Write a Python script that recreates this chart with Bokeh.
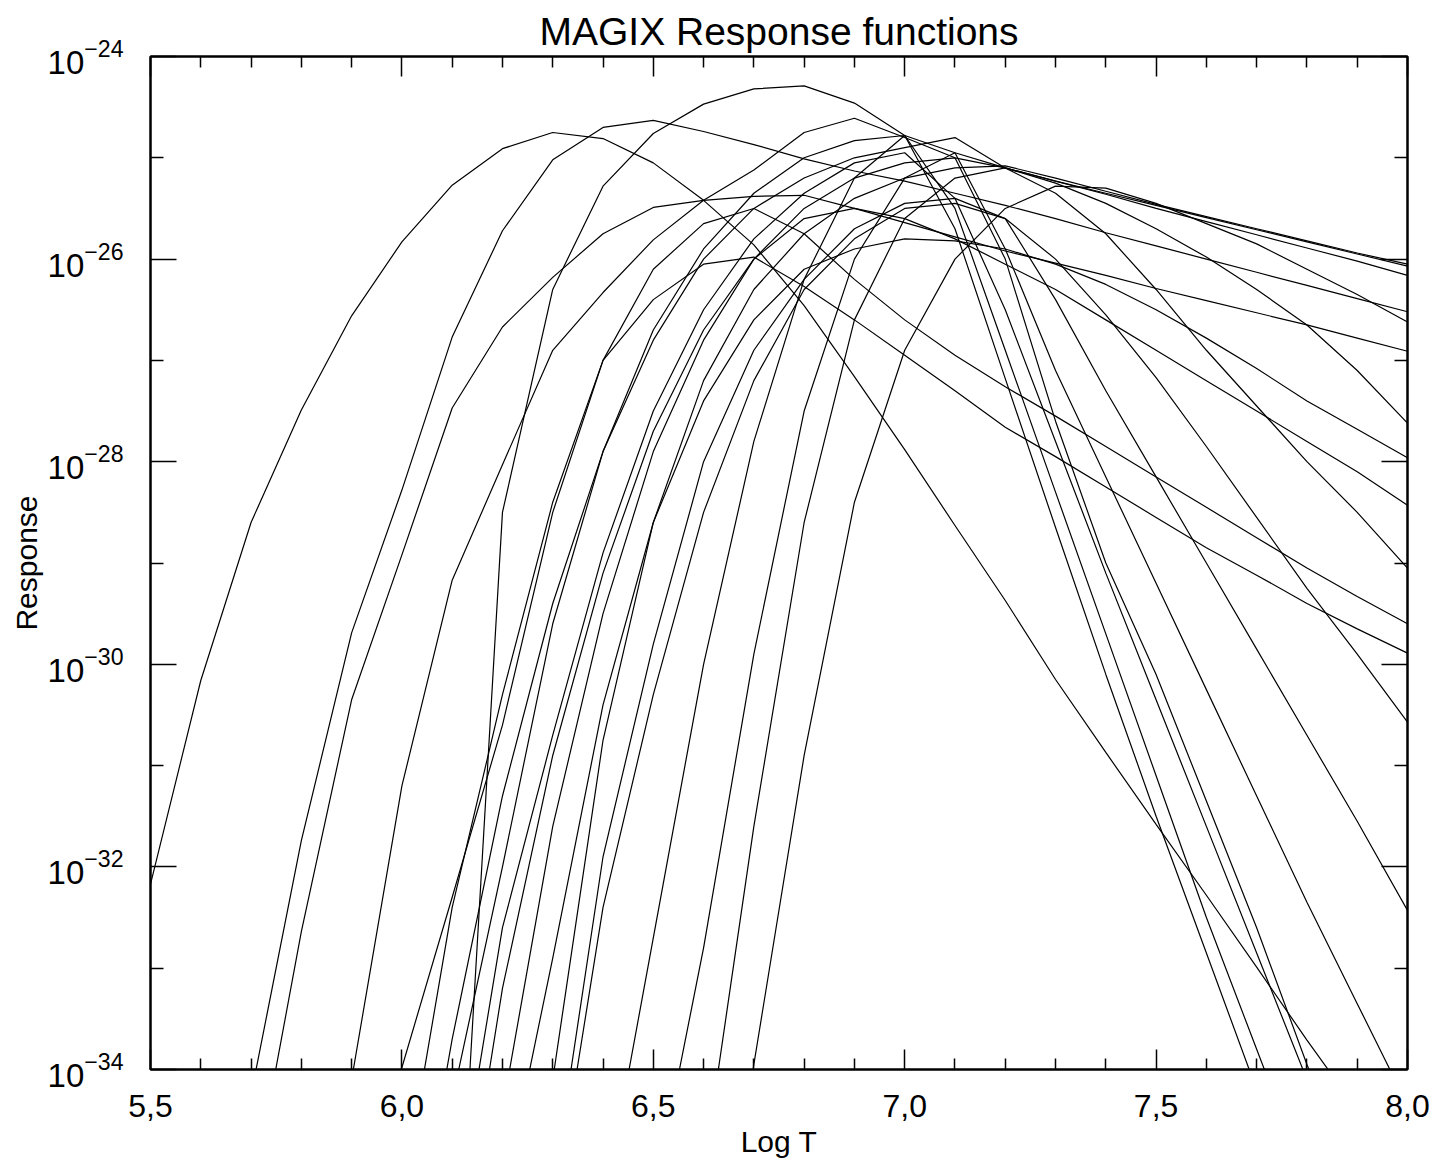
from bokeh.plotting import figure
from bokeh.models import (Range1d, FixedTicker, LinearAxis,
                          LogTickFormatter, CustomJSTickFormatter,
                          CustomLabelingPolicy)
from bokeh.embed import file_html
from bokeh.resources import INLINE

# ---- data: log10(response) at each log T node ----
log_t = [5.5, 5.6, 5.7, 5.8, 5.9, 6.0, 6.1, 6.2, 6.3, 6.4, 6.5, 6.6, 6.7,
         6.8, 6.9, 7.0, 7.1, 7.2, 7.3, 7.4, 7.5, 7.6, 7.7, 7.8, 7.9, 8.0]

c00 = [-32.17, -30.16, -28.60, -27.49, -26.56, -25.83, -25.27, -24.91, -24.75, -24.81, -25.05, -25.42, -25.86,
       -26.46, -27.16, -27.88, -28.63, -29.37, -30.15, -30.87, -31.58, -32.28, -32.99, -33.71, -34.40, -35.10]
c01 = [-39.0, -36.8, -34.25, -31.74, -29.69, -28.28, -26.77, -25.72, -25.02, -24.70, -24.63, -24.74, -24.87,
       -25.01, -25.13, -25.23, -25.35, -25.47, -25.60, -25.74, -25.87, -26.00, -26.13, -26.26, -26.39, -26.52]
c02 = [-41.0, -38.0, -35.31, -32.64, -30.35, -28.92, -27.47, -26.67, -26.18, -25.75, -25.49, -25.42, -25.38,
       -25.37, -25.50, -25.64, -25.78, -25.92, -26.04, -26.16, -26.29, -26.41, -26.53, -26.65, -26.78, -26.91]
c03 = [-45.0, -42.0, -39.0, -36.5, -34.10, -31.20, -29.17, -28.03, -26.90, -26.33, -25.81, -25.42, -25.12,
       -24.75, -24.61, -24.80, -25.00, -25.10, -25.23, -25.35, -25.47, -25.59, -25.71, -25.83, -25.95, -26.07]
c04 = [-48.0, -45.0, -42.0, -39.0, -35.70, -33.98, -32.30, -30.60, -28.50, -27.00, -26.40, -26.05, -25.98,
       -26.27, -26.60, -26.95, -27.30, -27.66, -27.95, -28.25, -28.55, -28.85, -29.12, -29.40, -29.65, -29.89]
c05 = [-50.0, -47.0, -44.0, -41.0, -38.5, -35.30, -32.40, -30.30, -28.40, -27.00, -26.10, -25.65, -25.50,
       -25.75, -26.20, -26.60, -26.95, -27.26, -27.55, -27.85, -28.15, -28.45, -28.75, -29.05, -29.33, -29.60]
c06 = [-55.0, -52.0, -49.0, -46.0, -43.0, -40.0, -37.0, -28.50, -26.30, -25.28, -24.76, -24.47, -24.32,
       -24.29, -24.46, -24.78, -25.70, -27.18, -28.65, -30.10, -31.50, -32.85, -34.20, -35.50, -36.80, -38.00]
c07 = [-55.0, -52.0, -49.0, -46.0, -42.0, -36.5, -33.70, -31.30, -29.40, -27.90, -26.70, -25.90, -25.35,
       -25.00, -24.83, -24.78, -25.50, -26.90, -28.30, -29.70, -31.10, -32.50, -33.80, -35.10, -36.40, -37.70]
c08 = [-55.0, -52.0, -49.0, -46.0, -42.0, -38.0, -34.30, -32.00, -29.60, -27.90, -26.80, -26.00, -25.50,
       -25.20, -25.00, -24.90, -24.80, -25.10, -25.23, -25.36, -25.50, -25.63, -25.76, -25.89, -26.02, -26.16]
c09 = [-55.0, -52.0, -49.0, -46.0, -42.0, -39.0, -35.60, -32.60, -30.70, -28.90, -27.50, -26.50, -25.80,
       -25.35, -25.05, -24.95, -25.40, -26.50, -27.80, -29.10, -30.35, -31.60, -32.85, -34.10, -35.30, -36.50]
c10 = [-55.0, -52.0, -49.0, -46.0, -42.0, -39.0, -36.30, -33.20, -30.90, -29.10, -27.70, -26.70, -26.00,
       -25.50, -25.20, -25.05, -25.00, -26.00, -27.60, -29.00, -30.10, -31.35, -32.60, -33.95, -35.20, -36.40]
c11 = [-55.0, -52.0, -49.0, -46.0, -43.0, -40.0, -37.5, -34.40, -31.60, -29.50, -27.90, -26.80, -26.00,
       -25.60, -25.50, -25.60, -25.80, -26.05, -26.30, -26.60, -26.90, -27.20, -27.50, -27.80, -28.10, -28.43]
c12 = [-55.0, -52.0, -49.0, -46.0, -43.0, -40.0, -37.5, -35.30, -32.90, -30.40, -28.60, -27.40, -26.60,
       -26.10, -25.90, -25.80, -25.82, -25.90, -26.05, -26.25, -26.50, -26.78, -27.08, -27.40, -27.68, -27.96]
c13 = [-55.0, -52.0, -49.0, -46.0, -43.0, -40.0, -38.0, -36.5, -34.10, -30.75, -28.60, -27.20, -26.30,
       -25.75, -25.40, -25.20, -25.10, -25.08, -25.20, -25.33, -25.46, -25.58, -25.70, -25.82, -25.94, -26.05]
c14 = [-55.0, -52.0, -49.0, -46.0, -43.0, -41.0, -39.0, -37.5, -35.20, -31.90, -29.80, -28.00, -26.90,
       -26.20, -25.70, -25.45, -25.40, -25.60, -26.40, -27.30, -28.15, -29.00, -29.85, -30.70, -31.55, -32.43]
c15 = [-55.0, -52.0, -49.0, -46.0, -43.0, -41.0, -39.0, -37.5, -35.50, -32.40, -30.30, -28.50, -27.20,
       -26.30, -25.80, -25.50, -25.45, -25.60, -26.00, -26.55, -27.17, -27.85, -28.55, -29.25, -29.90, -30.57]
c16 = [-60.0, -57.0, -54.0, -51.0, -48.0, -45.0, -42.0, -39.0, -37.0, -35.40, -32.70, -30.00, -27.80,
       -26.20, -25.20, -24.78, -24.95, -25.10, -25.25, -25.45, -25.70, -25.98, -26.30, -26.65, -27.10, -27.62]
c17 = [-60.0, -57.0, -54.0, -51.0, -48.0, -45.0, -42.0, -40.0, -38.0, -37.0, -35.30, -32.80, -29.90,
       -27.50, -26.00, -25.20, -24.95, -25.90, -27.10, -28.15, -29.20, -30.25, -31.30, -32.35, -33.35, -34.35]
c18 = [-60.0, -57.0, -54.0, -51.0, -48.0, -45.0, -42.0, -40.0, -38.5, -37.0, -36.0, -35.00, -31.60,
       -28.60, -26.60, -25.60, -25.20, -25.10, -25.35, -25.75, -26.30, -26.90, -27.45, -28.00, -28.50, -29.05]
c19 = [-60.0, -57.0, -54.0, -51.0, -48.0, -45.0, -42.0, -40.5, -39.5, -38.5, -38.0, -37.50, -33.95,
       -30.90, -28.40, -26.90, -26.00, -25.50, -25.28, -25.30, -25.45, -25.65, -25.85, -26.10, -26.35, -26.62]

curves = [c00, c01, c02, c03, c04, c05, c06, c07, c08, c09,
          c10, c11, c12, c13, c14, c15, c16, c17, c18, c19]

x_major = [5.5, 6.0, 6.5, 7.0, 7.5, 8.0]
x_minor = [5.6, 5.7, 5.8, 5.9, 6.1, 6.2, 6.3, 6.4, 6.6, 6.7, 6.8, 6.9,
           7.1, 7.2, 7.3, 7.4, 7.6, 7.7, 7.8, 7.9]
y_major = [1e-34, 1e-32, 1e-30, 1e-28, 1e-26, 1e-24]
y_minor = [1e-33, 1e-31, 1e-29, 1e-27, 1e-25]

title_text = "MAGIX Response functions"
x_label = "Log T"
y_label = "Response"

FONT = "Liberation Sans"

p = figure(width=1436, height=1164, x_range=Range1d(5.5, 8.0),
           y_range=Range1d(1e-34, 1e-24), y_axis_type="log",
           output_backend="svg", toolbar_location=None,
           min_border_left=150, min_border_right=29,
           min_border_top=56, min_border_bottom=95)

p.title.text = title_text
p.title.align = "center"
p.title.text_font = FONT
p.title.text_font_size = "39px"
p.title.text_font_style = "normal"
p.title.text_color = "black"
p.title.standoff = 0

p.grid.visible = False
p.outline_line_color = "black"
p.outline_line_width = 2
p.background_fill_color = "white"
p.border_fill_color = "white"

for c in curves:
    p.line(log_t, [10.0 ** v for v in c], line_color="black", line_width=1.2)


def style_axis(ax, major_in, minor_in):
    ax.axis_line_color = "black"
    ax.axis_line_width = 2
    ax.major_tick_line_color = "black"
    ax.minor_tick_line_color = "black"
    ax.major_tick_line_width = 1.5
    ax.minor_tick_line_width = 1.5
    ax.major_tick_in = major_in
    ax.major_tick_out = 0
    ax.minor_tick_in = minor_in
    ax.minor_tick_out = 0


# bottom axis
xa = p.xaxis[0]
xa.ticker = FixedTicker(ticks=x_major, minor_ticks=x_minor)
xa.formatter = CustomJSTickFormatter(code="return tick.toFixed(1).replace('.', ',');")
xa.axis_label = x_label
style_axis(xa, 20, 11)
xa.major_label_text_font = FONT
xa.major_label_text_font_size = "32px"
xa.major_label_text_color = "black"
xa.major_label_standoff = 25
xa.axis_label_text_font = FONT
xa.axis_label_text_font_size = "30px"
xa.axis_label_text_font_style = "normal"
xa.axis_label_text_color = "black"
xa.axis_label_standoff = 5

# left axis
ya = p.yaxis[0]
ya.ticker = FixedTicker(ticks=y_major, minor_ticks=y_minor)
ya.formatter = LogTickFormatter()
ya.axis_label = y_label
style_axis(ya, 26, 13)
ya.major_label_text_font = FONT
ya.major_label_text_font_size = "33px"
ya.major_label_text_color = "black"
ya.major_label_standoff = 27
ya.axis_label_text_font = FONT
ya.axis_label_text_font_size = "30px"
ya.axis_label_text_font_style = "normal"
ya.axis_label_text_color = "black"
ya.axis_label_standoff = 2

# mirrored axes: ticks only, no labels drawn
top = LinearAxis(ticker=FixedTicker(ticks=x_major, minor_ticks=x_minor),
                 formatter=CustomJSTickFormatter(code="return tick.toFixed(1);"),
                 major_label_policy=CustomLabelingPolicy(code="return []"),
                 major_label_text_font_size="1px", major_label_standoff=0)
style_axis(top, 20, 11)
p.add_layout(top, "above")

right = LinearAxis(ticker=FixedTicker(ticks=y_major, minor_ticks=y_minor),
                   formatter=CustomJSTickFormatter(code="return '';"),
                   major_label_policy=CustomLabelingPolicy(code="return []"),
                   major_label_text_font_size="1px", major_label_standoff=0)
style_axis(right, 26, 13)
p.add_layout(right, "right")

open("out.html", "w").write(file_html(p, INLINE))
